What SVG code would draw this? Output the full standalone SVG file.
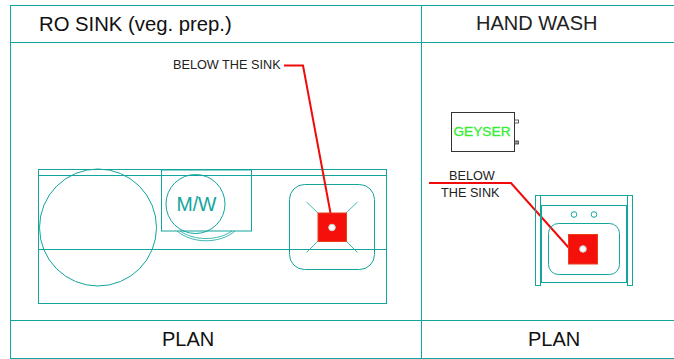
<svg xmlns="http://www.w3.org/2000/svg" width="674" height="359" viewBox="0 0 674 359">
<style>
.t{fill:none;stroke:#12a59c;stroke-width:1}
.l{fill:none;stroke:#12a59c;stroke-width:.8}
.r{fill:none;stroke:#f00a0a;stroke-width:2}
.f{fill:#f5100c;stroke:#e8401c;stroke-width:1}
.h{fill:#fff;stroke:#ccc;stroke-width:1}
text{font-family:"Liberation Sans",Arial,sans-serif;fill:#111}
</style>
<rect width="674" height="359" fill="#fff"/>
<g id="frame">
<path class="t" d="M10 5.500H674M10 42.500H674M10 320.500H674M10 358.500H674M10.500 5V359M421.500 5V359"/>
</g>
<g id="titles">
<text x="39" y="31" font-size="20.300">RO SINK (veg. prep.)</text>
<text x="476" y="30" font-size="20" style="fill:#222">HAND WASH</text>
<text x="162" y="346" font-size="20">PLAN</text>
<text x="528" y="346" font-size="20">PLAN</text>
</g>
<g id="counter">
<rect class="t" x="38.500" y="169.500" width="348" height="134"/>
<path class="t" d="M38.500 175.500H386.500M38.500 249.500H386.500"/>
<circle class="t" cx="98" cy="227.500" r="58.500"/>
</g>
<g id="microwave">
<rect class="t" x="161.500" y="170" width="90" height="61"/>
<circle class="t" cx="195.500" cy="204" r="29.500"/>
<path class="l" d="M177 231C192 244 220 244 235 231M180 231C194 241 218 241 232 231"/>
<text x="196.500" y="211" font-size="19.500" text-anchor="middle" style="fill:#12a59c">M/W</text>
</g>
<g id="ro-sink">
<rect class="t" x="289.500" y="184.500" width="85" height="85" rx="15"/>
<path class="l" d="M306.500 202L318 213M357.500 202L346 213M306.500 252.500L318 241M357.500 252.500L346 241"/>
<rect class="f" x="318" y="213" width="28.500" height="28.500"/>
<circle class="h" cx="332" cy="227.500" r="3.300"/>
</g>
<g id="geyser">
<rect x="451.500" y="112.500" width="63" height="39" fill="#fff" stroke="#333" stroke-width="1"/>
<rect x="514.500" y="120" width="4" height="3" fill="#fff" stroke="#333" stroke-width=".8"/>
<rect x="514.500" y="141" width="4" height="3" fill="#999" stroke="#333" stroke-width=".8"/>
<text x="482" y="136" font-size="13.700" text-anchor="middle" stroke="#33ee33" stroke-width=".3" style="fill:#33ee33">GEYSER</text>
</g>
<g id="connectors">
<path class="r" d="M284 65.500H303L330.500 213"/>
<path class="r" d="M429 183H511L569 248"/>
</g>
<g id="hand-sink">
<rect class="t" x="535.500" y="195.500" width="5" height="90"/>
<rect class="t" x="627.500" y="195.500" width="5" height="90"/>
<path class="t" d="M540.500 195.500H627.500M540.500 205.500H627.500M541.500 205.500V282M626.500 205.500V282M540.500 282.500H627.500"/>
<rect class="t" x="548.500" y="223.500" width="71" height="51" rx="10"/>
<circle class="t" cx="574" cy="214.500" r="2.800"/>
<circle class="t" cx="594" cy="214.500" r="2.800"/>
<rect class="f" x="568.500" y="234.500" width="29" height="29.500"/>
<circle class="h" cx="583" cy="249" r="3.300"/>
</g>
<g id="labels">
<text x="173" y="69" font-size="12.700" style="fill:#222">BELOW THE SINK</text>
<text x="449" y="180" font-size="12.700" style="fill:#222">BELOW</text>
<text x="441" y="197" font-size="12.700" style="fill:#222">THE SINK</text>
</g>
</svg>
